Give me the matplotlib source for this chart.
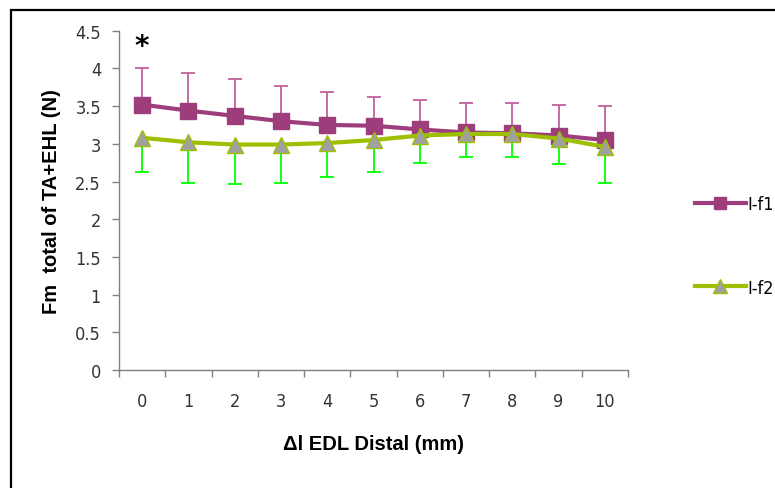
import numpy as np
import matplotlib
matplotlib.use("Agg")
import matplotlib.pyplot as plt
from matplotlib.patches import Rectangle

# ---- data ----
categories = [0, 1, 2, 3, 4, 5, 6, 7, 8, 9, 10]
f1_values = [3.52, 3.44, 3.37, 3.30, 3.25, 3.24, 3.19, 3.15, 3.14, 3.11, 3.05]
f1_err_up = [0.49, 0.50, 0.49, 0.47, 0.44, 0.38, 0.39, 0.39, 0.40, 0.41, 0.45]
f2_values = [3.08, 3.02, 2.99, 2.99, 3.01, 3.05, 3.11, 3.13, 3.13, 3.07, 2.96]
f2_err_down = [0.45, 0.54, 0.52, 0.51, 0.45, 0.42, 0.37, 0.31, 0.31, 0.34, 0.48]
y_ticks = [0, 0.5, 1, 1.5, 2, 2.5, 3, 3.5, 4, 4.5]
y_tick_labels = ["0", "0.5", "1", "1.5", "2", "2.5", "3", "3.5", "4", "4.5"]
series_names = ["I-f1", "I-f2"]

x = np.arange(len(categories))
zeros = np.zeros(len(categories))

narrow = ["DejaVu Sans"]
boldfam = ["Liberation Sans", "DejaVu Sans"]

fig = plt.figure(figsize=(7.75, 4.89), dpi=100)
ax = fig.add_axes([119 / 775, 1 - 371 / 489, (628 - 119) / 775, (371 - 31.7) / 489])

c1 = "#9E3D7C"
c1err = "#C0609C"
c2 = "#9CC000"
c2err = "#00FF00"

# series 1 error bars (upward)
eb1 = ax.errorbar(x, f1_values, yerr=[zeros, f1_err_up], fmt="none",
                  ecolor=c1err, elinewidth=1.3, capsize=5, capthick=1.3, zorder=2)
eb1[1][0].set_visible(False)
ax.plot(x, f1_values, color=c1, lw=3, marker="s", markersize=11,
        markerfacecolor=c1, markeredgecolor=c1, zorder=3, label=series_names[0])

# series 2 error bars (downward)
eb2 = ax.errorbar(x, f2_values, yerr=[f2_err_down, zeros], fmt="none",
                  ecolor=c2err, elinewidth=1.3, capsize=5, capthick=1.3, zorder=4)
eb2[1][1].set_visible(False)
ax.plot(x, f2_values, color=c2, lw=3, marker="^", markersize=12,
        markerfacecolor="#A0A0A0", markeredgecolor=c2, markeredgewidth=1,
        zorder=5, label=series_names[1])

ax.set_xlim(-0.5, len(categories) - 0.5)
ax.set_ylim(0, 4.5)

for s in ["top", "right"]:
    ax.spines[s].set_visible(False)
for s in ["left", "bottom"]:
    ax.spines[s].set_color("#808080")
    ax.spines[s].set_linewidth(1)

tick_font = {"family": narrow, "size": 13, "stretch": "condensed"}

ax.set_yticks(y_ticks)
ax.set_yticklabels(y_tick_labels, fontdict=tick_font, color="#333333")
ax.tick_params(axis="y", direction="out", length=5, width=1, color="#808080", pad=8)

ax.set_xticks(x)
ax.set_xticklabels([str(c) for c in categories], fontdict=tick_font, color="#333333")
ax.set_xticks(np.arange(-0.5, len(categories) + 0.5, 1), minor=True)
ax.tick_params(axis="x", which="major", length=0, pad=16)
ax.tick_params(axis="x", which="minor", direction="out", length=5, width=1, color="#808080")

ax.set_xlabel("Δl EDL Distal (mm)", fontfamily=boldfam, fontweight="bold", fontsize=14.5, labelpad=17)
ax.set_ylabel("Fm  total of TA+EHL (N)", fontfamily=boldfam, fontweight="bold", fontsize=14.5, labelpad=10)

ax.text(0, 4.3, "*", ha="center", va="center", fontsize=20, fontweight="bold", color="black")

leg = fig.legend(loc="center left", bbox_to_anchor=(686 / 775, 1 - 247 / 489),
                 frameon=False, prop={"family": narrow, "size": 13, "stretch": "condensed"},
                 handlelength=2.8, handletextpad=0.1, labelspacing=3.6, borderpad=0,
                 markerscale=0.85)

fig.patches.append(Rectangle((11 / 775, -1), 2, 1 + (1 - 11 / 489), transform=fig.transFigure,
                             fill=False, edgecolor="black", linewidth=1.6))

fig.savefig("out.png", dpi=100)
